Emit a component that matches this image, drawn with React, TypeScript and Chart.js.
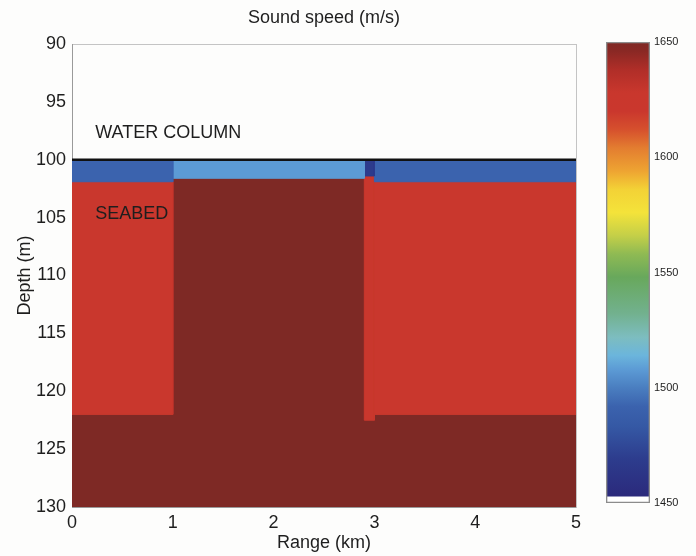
import React, { useEffect, useRef } from "react";
import { Chart, registerables } from "chart.js";

Chart.register(...registerables);

// ---- data ----
const segStart = [0, 1, 2.9, 3.0]; // km
const segEnd = [1, 2.9, 3.0, 5]; // km
const waterBottom = 100; // m, water/seabed interface
const maxDepth = 130; // m
const topLayerBottom = [101.9, 101.6, 101.4, 101.9]; // m
const sedimentBottom = [122, 130, 122.5, 122]; // m
const topLayerSpeed = [1492, 1508, 1468, 1492]; // m/s
const sedimentSpeed = [1628, 1650, 1628, 1628]; // m/s
const basementSpeed = 1650; // m/s

const xTicks = [0, 1, 2, 3, 4, 5];
const yTicks = [90, 95, 100, 105, 110, 115, 120, 125, 130];
const cbTicks = [1450, 1500, 1550, 1600, 1650];

const labelTexts = ["WATER COLUMN", "SEABED"];
const labelX = [0.23, 0.23];
const labelY = [97.7, 104.7];

// colormap stops (speed -> colour)
const cmapSpeeds = [1453, 1469, 1483, 1492, 1500, 1508, 1514, 1522, 1532, 1548, 1558, 1566, 1576, 1586, 1594, 1604, 1612, 1620, 1628, 1638, 1646, 1650];
const cmapColors = ["#2b2a7c", "#2d3c8d", "#3558a4", "#3b63ae", "#4a7ec0", "#5c9bd5", "#6bb5dc", "#7dbdbf", "#72b18f", "#68a85c", "#8fba53", "#c4cf48", "#f4e33a", "#f3d236", "#eea432", "#e37d30", "#d6502d", "#ca372d", "#c9372d", "#b02e28", "#8a2824", "#7e2925"];

const FONT = '"Liberation Sans", Arial, Helvetica, sans-serif';
const TXT = "#1e1e1e";

function hexToRgb(h: string) {
  const n = parseInt(h.slice(1), 16);
  return [(n >> 16) & 255, (n >> 8) & 255, n & 255];
}
function colorFor(v: number) {
  if (v <= cmapSpeeds[0]) return cmapColors[0];
  const last = cmapSpeeds.length - 1;
  if (v >= cmapSpeeds[last]) return cmapColors[last];
  for (let i = 0; i < last; i++) {
    const a = cmapSpeeds[i], b = cmapSpeeds[i + 1];
    if (v >= a && v <= b) {
      const t = (v - a) / (b - a);
      const c1 = hexToRgb(cmapColors[i]), c2 = hexToRgb(cmapColors[i + 1]);
      const c = c1.map((x, k) => Math.round(x + (c2[k] - x) * t));
      return `rgb(${c[0]},${c[1]},${c[2]})`;
    }
  }
  return cmapColors[last];
}

function rectDataset(x0: number, x1: number, y0: number, y1: number, speed: number, order: number) {
  const col = colorFor(speed);
  return {
    type: "line" as const,
    data: [
      { x: x0, y: y0 },
      { x: x1, y: y0 },
      { x: x1, y: y1 },
      { x: x0, y: y1 },
      { x: x0, y: y0 },
    ],
    fill: "shape",
    backgroundColor: col,
    borderColor: col,
    borderWidth: 1,
    pointRadius: 0,
    tension: 0,
    order,
  };
}

const labelPlugin = {
  id: "layerLabels",
  afterDatasetsDraw(chart: any) {
    const { ctx } = chart;
    const xs = chart.scales.x, ys = chart.scales.y;
    ctx.save();
    ctx.font = `18px ${FONT}`;
    ctx.fillStyle = TXT;
    ctx.textAlign = "left";
    ctx.textBaseline = "middle";
    labelTexts.forEach((t, i) => {
      ctx.fillText(t, xs.getPixelForValue(labelX[i]), ys.getPixelForValue(labelY[i]));
    });
    ctx.restore();
  },
};

export default function App() {
  const mainRef = useRef<HTMLCanvasElement>(null);
  const cbRef = useRef<HTMLCanvasElement>(null);

  useEffect(() => {
    const datasets: any[] = [];
    // interface line on top
    datasets.push({
      type: "line",
      data: [
        { x: segStart[0], y: waterBottom },
        { x: segEnd[segEnd.length - 1], y: waterBottom },
      ],
      borderColor: "#111",
      borderWidth: 2.5,
      pointRadius: 0,
      fill: false,
      order: 0,
    });
    // basement underlying the whole section
    datasets.push(rectDataset(segStart[0], segEnd[segEnd.length - 1], waterBottom, maxDepth, basementSpeed, 30));
    for (let i = 0; i < segStart.length; i++) {
      datasets.push(rectDataset(segStart[i], segEnd[i], waterBottom, topLayerBottom[i], topLayerSpeed[i], 10));
      if (sedimentSpeed[i] !== basementSpeed) {
        datasets.push(rectDataset(segStart[i], segEnd[i], topLayerBottom[i], sedimentBottom[i], sedimentSpeed[i], 20));
      }
    }

    const tickFont = { family: FONT, size: 18 };
    const main = new Chart(mainRef.current!, {
      type: "line",
      data: { datasets },
      plugins: [labelPlugin],
      options: {
        animation: false,
        responsive: false,
        layout: { padding: 0 },
        plugins: { legend: { display: false }, tooltip: { enabled: false }, title: { display: false } },
        scales: {
          x: {
            type: "linear",
            position: "bottom",
            min: 0,
            max: 5,
            afterBuildTicks: (s: any) => { s.ticks = xTicks.map((v) => ({ value: v })); },
            ticks: { font: tickFont, color: TXT, padding: 5, maxRotation: 0, autoSkip: false },
            grid: { display: false, drawTicks: false },
            border: { display: true, color: "#9a9a9a", width: 1 },
            title: { display: true, text: "Range (km)", font: tickFont, color: TXT, padding: { top: 0, bottom: 2 } },
            afterFit: (s: any) => { s.height = 49; },
          },
          x2: {
            type: "linear",
            position: "top",
            min: 0,
            max: 5,
            ticks: { display: false },
            grid: { display: false, drawTicks: false },
            border: { display: true, color: "#c4c4c4", width: 1 },
            title: { display: true, text: "Sound speed (m/s)", font: tickFont, color: TXT, padding: { top: 7, bottom: 0 } },
            afterFit: (s: any) => { s.height = 44; },
          },
          y: {
            type: "linear",
            position: "left",
            min: 90,
            max: 130,
            reverse: true,
            afterBuildTicks: (s: any) => { s.ticks = yTicks.map((v) => ({ value: v })); },
            ticks: { font: tickFont, color: TXT, padding: 6, autoSkip: false },
            grid: { display: false, drawTicks: false },
            border: { display: true, color: "#9a9a9a", width: 1 },
            title: { display: true, text: "Depth (m)", font: tickFont, color: TXT, padding: { top: 14, bottom: 0 } },
            afterFit: (s: any) => { s.width = 72; },
          },
          y2: {
            type: "linear",
            position: "right",
            min: 90,
            max: 130,
            reverse: true,
            ticks: { display: false },
            grid: { display: false, drawTicks: false },
            border: { display: true, color: "#c4c4c4", width: 1 },
            afterFit: (s: any) => { s.width = 24; },
          },
        },
      } as any,
    });

    const gradientFill = (ctx: any) => {
      const chart = ctx.chart;
      if (!chart.chartArea) return "#888";
      const ys = chart.scales.y;
      const y0 = ys.getPixelForValue(cmapSpeeds[0]);
      const y1 = ys.getPixelForValue(cmapSpeeds[cmapSpeeds.length - 1]);
      const g = chart.ctx.createLinearGradient(0, y0, 0, y1);
      cmapSpeeds.forEach((v, i) => {
        g.addColorStop((v - cmapSpeeds[0]) / (cmapSpeeds[cmapSpeeds.length - 1] - cmapSpeeds[0]), cmapColors[i]);
      });
      return g;
    };

    const cb = new Chart(cbRef.current!, {
      type: "bar",
      data: {
        labels: ["cb"],
        datasets: [
          {
            data: [[cbTicks[0], cbTicks[cbTicks.length - 1]]],
            backgroundColor: "rgba(0,0,0,0)",
            borderColor: "#8c8c8c",
            borderWidth: 1,
            borderSkipped: false,
            grouped: false,
            barPercentage: 1,
            categoryPercentage: 1,
          },
          {
            data: [[cmapSpeeds[0], cmapSpeeds[cmapSpeeds.length - 1]]],
            backgroundColor: gradientFill,
            borderWidth: 0,
            grouped: false,
            barPercentage: 1,
            categoryPercentage: 1,
          },
          {
            data: [[cbTicks[0], cmapSpeeds[0]]],
            backgroundColor: "#ffffff",
            borderWidth: 0,
            grouped: false,
            barPercentage: 1,
            categoryPercentage: 1,
          },
        ],
      },
      options: {
        animation: false,
        responsive: false,
        layout: { padding: { left: 16, top: 42, bottom: 53, right: 0 } },
        plugins: { legend: { display: false }, tooltip: { enabled: false } },
        scales: {
          x: { display: false },
          y: {
            position: "right",
            min: 1450,
            max: 1650,
            afterBuildTicks: (s: any) => { s.ticks = cbTicks.map((v) => ({ value: v })); },
            ticks: { font: { family: FONT, size: 11 }, color: TXT, padding: 4, callback: (v: any) => String(v) },
            grid: { display: false, drawTicks: false },
            border: { display: false },
            afterFit: (s: any) => { s.width = 46; },
          },
        },
      } as any,
    });

    return () => {
      main.destroy();
      cb.destroy();
    };
  }, []);

  return (
    <div style={{ position: "fixed", left: 0, top: 0, width: 696, height: 556, background: "#fdfdfc" }}>
      <canvas ref={mainRef} width={600} height={556} style={{ position: "absolute", left: 0, top: 0 }} />
      <canvas ref={cbRef} width={106} height={556} style={{ position: "absolute", left: 590, top: 0 }} />
    </div>
  );
}
